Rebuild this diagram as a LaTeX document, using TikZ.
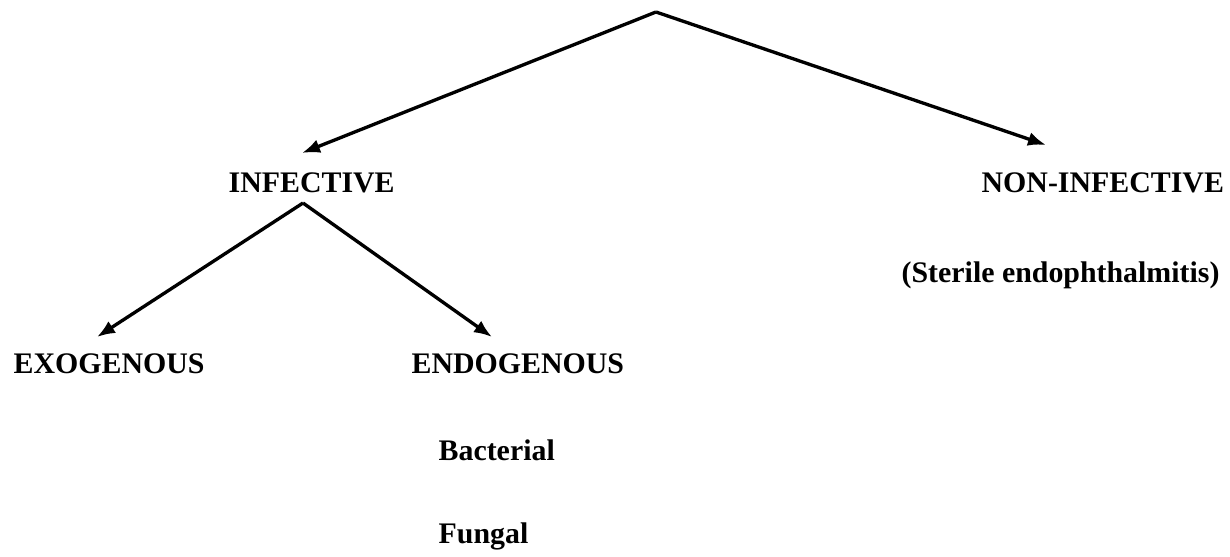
\documentclass[tikz,border=0pt]{standalone}
\usepackage{fontspec}
\setmainfont{Liberation Serif}
\usetikzlibrary{arrows.meta}

\begin{document}
\begin{tikzpicture}[x=0.02cm, y=-0.02cm, line width=1.9pt,
  every node/.style={anchor=base west, inner sep=0pt, font=\fontsize{17}{20}\selectfont\bfseries},
  arr/.style={-{Latex[length=0.36cm,width=0.28cm]}}]
\useasboundingbox (0,0) rectangle (1230,557);

\node (infective) at (227,193) {INFECTIVE};
\node (noninfective) at (980,193) {NON-INFECTIVE};
\node (sterile) at (900,282) {(Sterile endophthalmitis)};
\node (exogenous) at (12,373) {EXOGENOUS};
\node (endogenous) at (410,373) {ENDOGENOUS};
\node (bacterial) at (437,460) {Bacterial};
\node (fungal) at (437,543) {Fungal};

\coordinate (top) at (656,12);
\coordinate (split) at (303,203);
\coordinate (infective tip) at (302,153);
\coordinate (noninfective tip) at (1046,145);
\coordinate (exogenous tip) at (97,337);
\coordinate (endogenous tip) at (492,337);

\draw[arr] (top) -- (infective tip);
\draw[arr] (top) -- (noninfective tip);

\draw[arr] (split) -- (exogenous tip);
\draw[arr] (split) -- (endogenous tip);

\end{tikzpicture}
\end{document}
